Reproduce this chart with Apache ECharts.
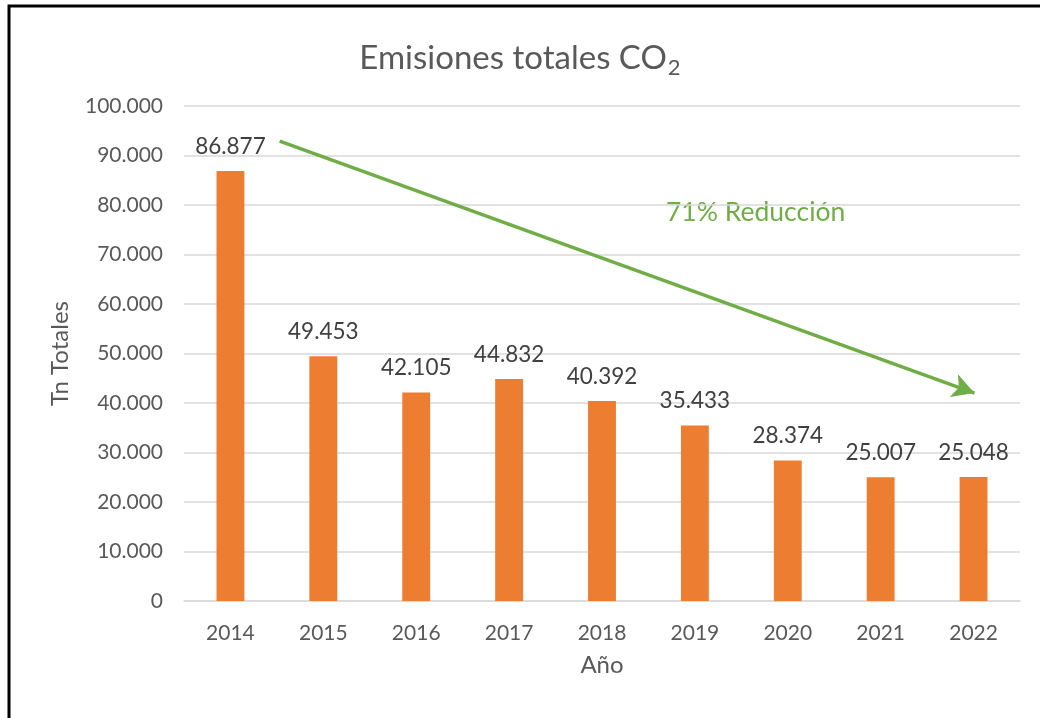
<!DOCTYPE html>
<html>
<head>
<meta charset="utf-8">
<script src="https://cdn.jsdelivr.net/npm/echarts@6/dist/echarts.min.js"></script>
<style>
html,body{margin:0;padding:0;background:#fff;}
#chart{width:1040px;height:718px;}
</style>
</head>
<body>
<div id="chart"></div>
<script>
const years = ['2014','2015','2016','2017','2018','2019','2020','2021','2022'];
const emissions = [86877, 49453, 42105, 44832, 40392, 35433, 28374, 25007, 25048];
const yTicks = [0, 10000, 20000, 30000, 40000, 50000, 60000, 70000, 80000, 90000, 100000];
const arrowFrom = [0.53, 92900];
const arrowTo = [8.01, 42000];
const annotation = '71% Reducción';

const FONT = 'Lato, "Open Sans", sans-serif';
function fmt(v){ return String(v).replace(/\B(?=(\d{3})+(?!\d))/g, '.'); }

const chart = echarts.init(document.getElementById('chart'), null, {renderer:'canvas'});
chart.setOption({
  animation:false,
  backgroundColor:'#fff',
  title:{
    text:'{m|Emisiones totales CO}{s|2}',
    left:'center', top:32,
    textStyle:{
      fontWeight:'normal',
      rich:{
        m:{fontFamily:FONT, fontSize:33, fontWeight:'normal', color:'#595959'},
        s:{fontFamily:FONT, fontSize:22, fontWeight:'normal', color:'#595959', verticalAlign:'bottom', padding:[20,0,0,1]}
      }
    }
  },
  grid:{left:184, right:20, top:106, bottom:117, containLabel:false},
  xAxis:[{
    type:'category', data:years,
    axisLine:{show:true, lineStyle:{color:'#d9d9d9', width:1.5}},
    axisTick:{show:false},
    axisLabel:{fontFamily:FONT, fontSize:21, color:'#595959', margin:22},
    name:'Año', nameLocation:'middle', nameGap:52,
    nameTextStyle:{fontFamily:FONT, fontSize:24, color:'#595959'}
  },{
    type:'value', min:-0.5, max:8.5, show:false
  }],
  yAxis:{
    type:'value', min:0, max:100000, interval:10000,
    axisLine:{show:false}, axisTick:{show:false},
    splitLine:{lineStyle:{color:'#d9d9d9', width:1.5}},
    axisLabel:{fontFamily:FONT, fontSize:21, color:'#595959', margin:21,
      formatter:v=> yTicks.includes(v) ? fmt(v) : ''},
    name:'Tn Totales', nameLocation:'middle', nameGap:112, nameRotate:90,
    nameTextStyle:{fontFamily:FONT, fontSize:24, color:'#595959'}
  },
  series:[{
    type:'bar', data:emissions, barWidth:'30%',
    itemStyle:{color:'#ED7D31'},
    label:{show:true, position:'top', distance:13, fontFamily:FONT, fontSize:22.5, color:'#404040',
      formatter:p=>fmt(p.value)}
  },{
    type:'line', xAxisIndex:1, data:[], silent:true,
    markLine:{
      silent:true, symbol:['none','arrow'], symbolSize:[18,22],
      label:{show:false},
      lineStyle:{color:'#70AD47', width:3.5, type:'solid'},
      data:[[{coord:arrowFrom},{coord:arrowTo}]]
    }
  }],
  graphic:[{
    type:'rect', shape:{x:9, y:6, width:1200, height:900},
    style:{fill:'none', stroke:'#000', lineWidth:3}, silent:true
  },{
    type:'text', left:666, top:199,
    style:{text:annotation, fontFamily:FONT, fontSize:26.5, fill:'#70AD47'}
  }]
});
</script>
</body>
</html>
